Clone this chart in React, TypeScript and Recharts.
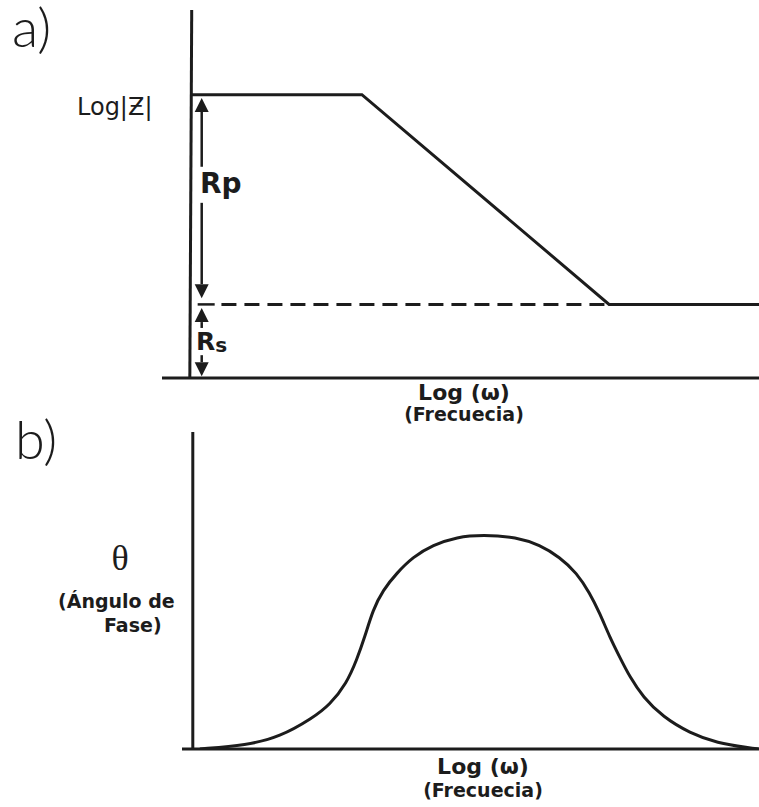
import { Line, LineChart, ReferenceLine, XAxis, YAxis } from 'recharts'

// a) magnitude (asymptotic Bode), x = log(w) in arbitrary units
const magFreq = [0, 6.3, 15.45, 21]
const magLogZ = [7.7, 7.7, 2.0, 2.0]

// b) phase angle bell
const phaseFreq = [
  0.26, 2.0, 3.22, 4.44, 5.07, 5.7, 6.07, 6.37, 6.67, 7.04, 7.56, 8.15, 8.89, 9.78, 10.74, 12.0,
  12.85, 13.59, 14.22, 14.7, 15.07, 15.44, 15.81, 16.19, 16.67, 17.41, 18.41, 19.41, 20.63, 20.96,
]
const phaseTheta = [
  0, 1.1, 3.4, 8.8, 12.5, 18.7, 25.3, 31.8, 39.5, 45.1, 50.0, 54.5, 57.9, 60.2, 60.8, 60.2, 57.9,
  54.5, 50.0, 44.3, 38.6, 31.8, 26.1, 20.4, 14.8, 9.1, 4.5, 1.7, 0.3, 0,
]

// Rs / Rp marker levels
const rpTop = 7.61
const rpGapTop = 5.74
const rpGapBottom = 4.76
const rpBottom = 2.17
const rsTop = 1.9
const rsTextTop = 1.36
const rsTextBottom = 0.62
const rsBottom = 0.05
const arrowX = 0.37

const INK = '#1c1c1c'
const BOLD = '"DejaVu Sans", Verdana, sans-serif'

function ArrowShape(props: any) {
  const { x1, y1, x2, y2 } = props
  const len = 14
  const half = 7
  const dx = x2 - x1
  const dy = y2 - y1
  const d = Math.hypot(dx, dy) || 1
  const ux = dx / d
  const uy = dy / d
  const bx = x2 - ux * len
  const by = y2 - uy * len
  return (
    <g>
      <line x1={x1} y1={y1} x2={bx} y2={by} stroke={INK} strokeWidth={2.5} />
      <polygon
        points={`${x2},${y2} ${bx - uy * half},${by + ux * half} ${bx + uy * half},${by - ux * half}`}
        fill={INK}
      />
    </g>
  )
}

export default function App() {
  const magData = magFreq.map((x, i) => ({ x, y: magLogZ[i] }))
  const phaseData = phaseFreq.map((x, i) => ({ x, y: phaseTheta[i] }))

  return (
    <div
      style={{
        position: 'absolute',
        left: 0,
        top: 0,
        width: 759,
        height: 807,
        background: '#fff',
        overflow: 'hidden',
      }}
    >
      <div style={{ position: 'absolute', left: 0, top: 0 }}>
        <LineChart width={759} height={400} data={magData} margin={{ top: 10, right: 0, bottom: 22, left: 162 }}>
          <XAxis dataKey="x" type="number" domain={[-1.1, 21]} allowDataOverflow hide />
          <YAxis hide type="number" domain={[0, 10]} allowDataOverflow />
          {/* horizontal axis */}
          <ReferenceLine y={0} stroke={INK} strokeWidth={3} ifOverflow="visible" />
          {/* vertical axis */}
          <ReferenceLine
            segment={[
              { x: 0, y: 10 },
              { x: -0.07, y: 0 },
            ]}
            stroke={INK}
            strokeWidth={3}
          />
          <ReferenceLine
            segment={[
              { x: 1.1, y: 2.0 },
              { x: 15.45, y: 2.0 },
            ]}
            stroke={INK}
            strokeWidth={3}
            strokeDasharray="15 8"
          />
          <ReferenceLine
            segment={[
              { x: 0.22, y: 2.0 },
              { x: 0.85, y: 2.0 },
            ]}
            stroke={INK}
            strokeWidth={2.5}
          />
          <ReferenceLine segment={[{ x: arrowX, y: rpGapTop }, { x: arrowX, y: rpTop }]} shape={ArrowShape} />
          <ReferenceLine segment={[{ x: arrowX, y: rpGapBottom }, { x: arrowX, y: rpBottom }]} shape={ArrowShape} />
          <ReferenceLine segment={[{ x: arrowX, y: rsTextTop }, { x: arrowX, y: rsTop }]} shape={ArrowShape} />
          <ReferenceLine segment={[{ x: arrowX, y: rsTextBottom }, { x: arrowX, y: rsBottom }]} shape={ArrowShape} />
          <Line
            type="linear"
            dataKey="y"
            stroke={INK}
            strokeWidth={3}
            dot={false}
            isAnimationActive={false}
          />
        </LineChart>
      </div>

      <div style={{ position: 'absolute', left: 0, top: 420 }}>
        <LineChart width={759} height={387} data={phaseData} margin={{ top: 12, right: 0, bottom: 58, left: 182 }}>
          <XAxis dataKey="x" type="number" domain={[-0.4, 20.97]} allowDataOverflow hide />
          <YAxis hide type="number" domain={[0, 90]} allowDataOverflow />
          <ReferenceLine y={0} stroke={INK} strokeWidth={3} ifOverflow="visible" />
          <ReferenceLine
            segment={[
              { x: 0, y: 90 },
              { x: 0, y: 0 },
            ]}
            stroke={INK}
            strokeWidth={3}
          />
          <Line
            type="basis"
            dataKey="y"
            stroke={INK}
            strokeWidth={3}
            dot={false}
            isAnimationActive={false}
          />
        </LineChart>
      </div>

      <svg
        width={759}
        height={807}
        style={{ position: 'absolute', left: 0, top: 0, pointerEvents: 'none' }}
      >
        <g fill={INK}>
          <text x={12} y={47} fontSize={54} fontWeight={300} fontFamily='Lato, "Open Sans", sans-serif'>
            a)
          </text>
          <text x={77} y={115} fontSize={24} fontFamily={BOLD}>
            Log|Ƶ|
          </text>
          <text x={200} y={193} fontSize={28} fontWeight={700} fontFamily={BOLD}>
            Rp
          </text>
          <text x={196} y={350} fontWeight={700} fontFamily={BOLD}>
            <tspan fontSize={25}>R</tspan>
            <tspan fontSize={20} dy={2}>s</tspan>
          </text>
          <text x={464} y={400} fontSize={22} fontWeight={700} fontFamily={BOLD} textAnchor="middle">
            Log (ω)
          </text>
          <text x={464} y={421} fontSize={19} fontWeight={700} fontFamily={BOLD} textAnchor="middle">
            (Frecuecia)
          </text>

          <text x={15} y={459} fontSize={54} fontWeight={300} fontFamily='Lato, "Open Sans", sans-serif'>
            b)
          </text>
          <text x={120} y={570} fontSize={36} fontFamily='"Liberation Serif", serif' textAnchor="middle">
            θ
          </text>
          <text x={58} y={608} fontSize={19} fontWeight={700} fontFamily={BOLD}>
            (Ángulo de
          </text>
          <text x={104} y={632} fontSize={19} fontWeight={700} fontFamily={BOLD}>
            Fase)
          </text>
          <text x={483} y={774} fontSize={22} fontWeight={700} fontFamily={BOLD} textAnchor="middle">
            Log (ω)
          </text>
          <text x={483} y={797} fontSize={19} fontWeight={700} fontFamily={BOLD} textAnchor="middle">
            (Frecuecia)
          </text>
        </g>
      </svg>
    </div>
  )
}
